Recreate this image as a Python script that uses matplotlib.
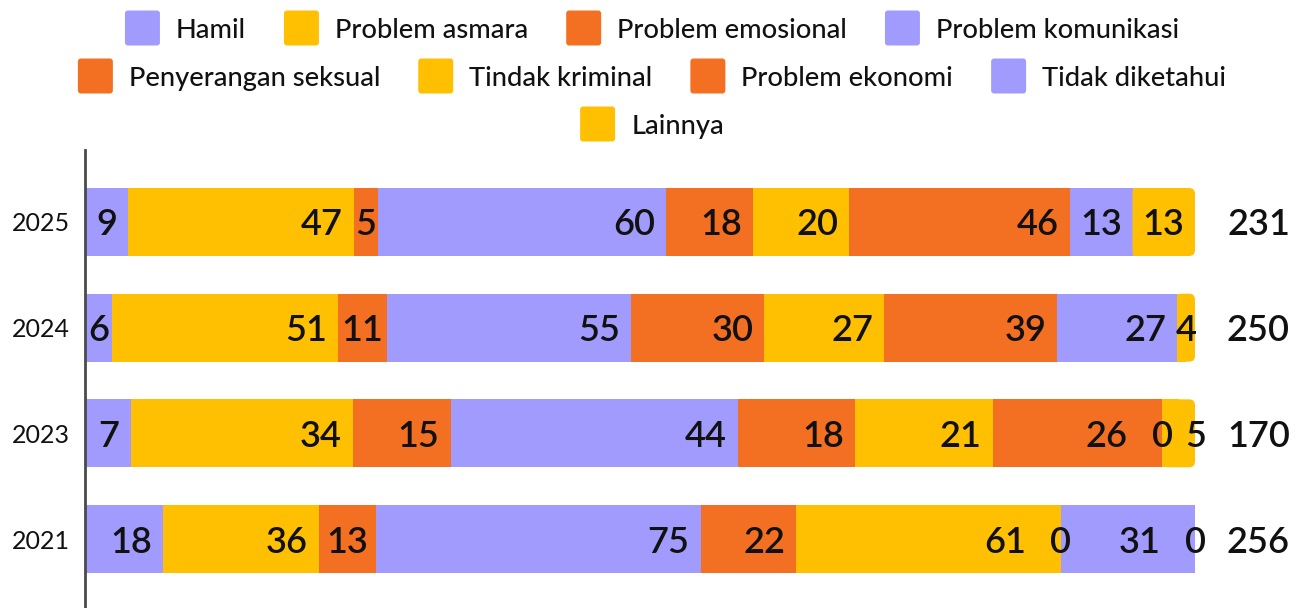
import matplotlib
matplotlib.use("Agg")
import matplotlib.pyplot as plt
from matplotlib.patches import FancyBboxPatch, Rectangle
import numpy as np

plt.rcParams['font.family'] = ['Lato', 'DejaVu Sans']

years = ["2025", "2024", "2023", "2021"]
series_names = ["Hamil", "Problem asmara", "Problem emosional", "Problem komunikasi",
                "Penyerangan seksual", "Tindak kriminal", "Problem ekonomi",
                "Tidak diketahui", "Lainnya"]
hamil = [9, 6, 7, 18]
asmara = [47, 51, 34, 36]
emosional = [5, 11, 15, 13]
komunikasi = [60, 55, 44, 75]
seksual = [18, 30, 18, 22]
kriminal = [20, 27, 21, 61]
ekonomi = [46, 39, 26, 0]
tidak_diketahui = [13, 27, 0, 31]
lainnya = [13, 4, 5, 0]

PURPLE = "#a29bfe"
YELLOW = "#fec000"
ORANGE = "#f37022"
colors = [PURPLE, YELLOW, ORANGE, PURPLE, ORANGE, YELLOW, ORANGE, PURPLE, YELLOW]

data = np.array([hamil, asmara, emosional, komunikasi, seksual, kriminal,
                 ekonomi, tidak_diketahui, lainnya], dtype=float)
totals = data.sum(axis=0)
pct = data / totals * 100

W, H = 1304, 608
fig = plt.figure(figsize=(W / 100, H / 100), dpi=100)
ax_left, ax_right, ax_top, ax_bottom = 85, 1195, 150, 608
ax = fig.add_axes([ax_left / W, 1 - ax_bottom / H, (ax_right - ax_left) / W, (ax_bottom - ax_top) / H])

ypos = np.arange(len(years))
slot_px = 105.67
ax.set_ylim(3 + 69 / slot_px, -72 / slot_px)
ax.set_xlim(0, 100)
bar_h = 68 / slot_px

px_per_x = (ax_right - ax_left) / 100.0
px_per_y = slot_px

renderer = fig.canvas.get_renderer()
label_fs = 26
pad_px = 11
gap_left = 24   # min gap when a label must yield to a zero-value label on its right
gap_right = 12  # min gap when a label must yield to a zero-value label on its left

nser = len(series_names)
left = np.zeros(len(years))
labels = [[None] * nser for _ in years]
for i in range(nser):
    vals = pct[i]
    if i < nser - 1:
        ax.barh(ypos, vals, left=left, height=bar_h, color=colors[i], linewidth=0)
    else:
        r = 6 / px_per_x
        for j in range(len(years)):
            if vals[j] <= 0:
                continue
            p = FancyBboxPatch((left[j], ypos[j] - bar_h / 2), vals[j], bar_h,
                               boxstyle=f"round,pad=0,rounding_size={r}",
                               mutation_aspect=px_per_x / px_per_y,
                               facecolor=colors[i], linewidth=0)
            ax.add_patch(p)
            ax.add_patch(Rectangle((left[j], ypos[j] - bar_h / 2), vals[j] / 2, bar_h,
                                   facecolor=colors[i], linewidth=0))
    for j in range(len(years)):
        start, end = left[j], left[j] + vals[j]
        txt = ax.text(0, ypos[j], f"{int(data[i, j])}", fontsize=label_fs, weight='semibold',
                      va='center_baseline', ha='center', color='#111111')
        tw = txt.get_window_extent(renderer).width
        seg_px = vals[j] * px_per_x
        if seg_px >= tw + 2 * pad_px:
            cx = end * px_per_x - pad_px - tw / 2
        else:
            cx = (start + end) / 2 * px_per_x
        labels[j][i] = [txt, tw, cx, data[i, j] == 0]
    left = left + vals

# resolve overlaps against zero-value labels (they stay put)
for j in range(len(years)):
    row = labels[j]
    for i in range(nser):
        txt, tw, cx, zero = row[i]
        if zero:
            continue
        if i + 1 < nser and row[i + 1][3]:
            ncx, ntw = row[i + 1][2], row[i + 1][1]
            limit = ncx - ntw / 2 - gap_left
            if cx + tw / 2 > limit:
                cx = limit - tw / 2
        if i - 1 >= 0 and row[i - 1][3]:
            ncx, ntw = row[i - 1][2], row[i - 1][1]
            limit = ncx + ntw / 2 + gap_right
            if cx - tw / 2 < limit:
                cx = limit + tw / 2
        row[i][2] = cx
    for i in range(nser):
        txt, tw, cx, zero = row[i]
        txt.set_x(cx / px_per_x)

# totals
for j in range(len(years)):
    ax.text((1290 - ax_left) / (ax_right - ax_left), ypos[j], f"{int(totals[j])}",
            transform=ax.get_yaxis_transform(), fontsize=label_fs, weight='semibold',
            ha='right', va='center_baseline', color='#111111', clip_on=False)

ax.set_yticks(ypos)
ax.set_yticklabels(years, fontsize=18, color='#111111')
ax.tick_params(axis='y', length=0, pad=11)
ax.set_xticks([])
for s in ['top', 'right', 'bottom']:
    ax.spines[s].set_visible(False)
ax.spines['left'].set_color('#4a4a4a')
ax.spines['left'].set_linewidth(2)

# legend (manual, centered rows like the source)
rows = [[0, 1, 2, 3], [4, 5, 6, 7], [8]]
row_y = [28, 76, 124]
box_w, box_h = 35, 35
box_gap = 16
item_gap = 38
leg_fs = 19.6
for r_i, row in enumerate(rows):
    widths = []
    texts = []
    for k in row:
        t = fig.text(0, 0, series_names[k], fontsize=leg_fs, weight='medium', color='#111111',
                     va='center_baseline', ha='left')
        texts.append(t)
        widths.append(t.get_window_extent(renderer).width)
    total_w = sum(box_w + box_gap + w for w in widths) + item_gap * (len(row) - 1)
    x = (W - total_w) / 2
    yc = row_y[r_i]
    for k, t, w in zip(row, texts, widths):
        fig.patches.append(FancyBboxPatch((x / W, 1 - (yc + box_h / 2) / H), box_w / W, box_h / H,
                                          boxstyle=f"round,pad=0,rounding_size={3 / W}",
                                          mutation_aspect=W / H,
                                          transform=fig.transFigure, facecolor=colors[k],
                                          linewidth=0))
        t.set_position(((x + box_w + box_gap) / W, 1 - yc / H))
        x += box_w + box_gap + w + item_gap

fig.savefig("out.png", dpi=100)
